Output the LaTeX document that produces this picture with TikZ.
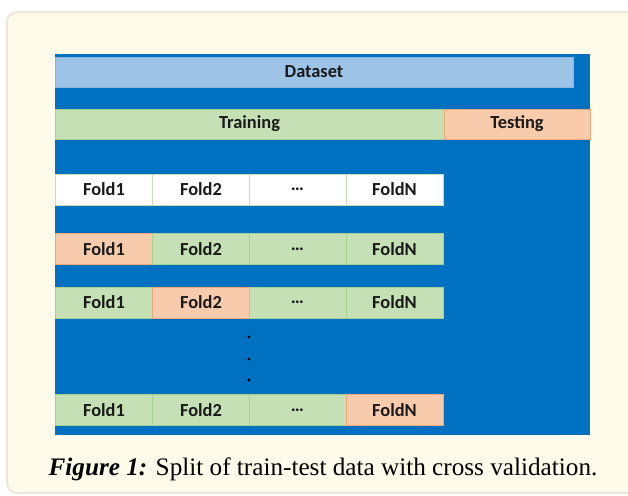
\documentclass[tikz,border=0pt]{standalone}
\usepackage{fontspec}
\setmainfont{Liberation Serif}
\setsansfont{Carlito}
\definecolor{cardfill}{HTML}{FEFBEA}
\definecolor{cardline}{HTML}{ECE8D6}
\definecolor{panelblue}{HTML}{0070C0}
\definecolor{datafill}{HTML}{9DC3E6}
\definecolor{dataline}{HTML}{8FB4DC}
\definecolor{trainfill}{HTML}{C5E0B4}
\definecolor{trainline}{HTML}{A9D18E}
\definecolor{testfill}{HTML}{F8CBAD}
\definecolor{testline}{HTML}{F0A878}
\definecolor{labeltext}{HTML}{1A1A1A}
\tikzset{
  bar/.style={minimum height=15pt, inner sep=0pt, font=\sffamily\bfseries\fontsize{9.2}{11}\selectfont, text=labeltext},
  cell/.style={bar, minimum width=48.5pt, minimum height=15.5pt},
  plain/.style={fill=white, draw=trainfill},
  train/.style={fill=trainfill, draw=trainline},
  test/.style={fill=testfill, draw=testline},
}
\begin{document}
\begin{tikzpicture}[x=0.5pt,y=-0.5pt]
            \useasboundingbox (0,0) rectangle (628,495);
            \clip (0,0) rectangle (628,495);

            % card and blue panel
            \draw[cardline, fill=cardfill, line width=1pt, rounded corners=5pt]
            (7,12) rectangle (650,493);
            \fill[panelblue] (55,54) rectangle (590,435);

            % top bars
            \node[bar, minimum width=259pt, fill=datafill, draw=dataline] (dataset) at (314,72) {Dataset};
            \node[bar, minimum width=194.5pt, train] (training) at (249.5,124) {Training};
            \node[bar, minimum width=73pt, test] (testing) at (517,124) {Testing};

            % fold rows
            \foreach \r/\y/\sa/\sb/\sc/\sd in {a/189.5/plain/plain/plain/plain,
                b/249/test/train/train/train, c/302.5/train/test/train/train,
                n/410/train/train/train/test}{
                \node[cell, \sa] (\r1) at (104,\y) {Fold1};
                \node[cell, \sb] (\r2) at (201,\y) {Fold2};
                \node[cell, \sc] (\r3) at (297.5,\y) {\ldots};
                \node[cell, \sd] (\r4) at (394.5,\y) {FoldN};
            }

            % vertical dots
            \foreach \y in {337,359,380}
                \fill[black] (249,\y) circle (0.8pt);

            \node[font=\fontsize{12.6}{15}\selectfont] (caption) at (323,469)
            {\textbf{\textit{Figure 1:}} Split of train-test data with cross validation.};
        \end{tikzpicture}
\end{document}
